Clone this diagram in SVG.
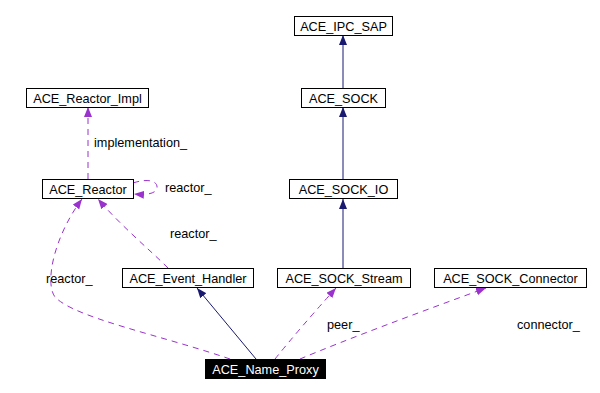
<svg xmlns="http://www.w3.org/2000/svg" width="600" height="393" viewBox="0 0 600 393">
  <style>
    .box { fill: #ffffff; stroke: #000000; stroke-width: 1; }
    .self { fill: #000000; stroke: #000000; stroke-width: 1; }
    text { font-family: "Liberation Sans", Arial, sans-serif; font-size: 12.7px; fill: #000000; }
    .nt { text-anchor: middle; }
    .wt { fill: #ffffff; }
    .inh { fill: none; stroke: #191970; stroke-width: 1; }
    .use { fill: none; stroke: #9a32cd; stroke-width: 1; stroke-dasharray: 6,5; }
  </style>
  <defs>
    <marker id="ah-inh" viewBox="0 0 10 8" refX="10" refY="4" markerWidth="10" markerHeight="8" markerUnits="userSpaceOnUse" orient="auto">
      <path d="M0,0 L10,4 L0,8 Z" fill="#191970"/>
    </marker>
    <marker id="ah-use" viewBox="0 0 10 8" refX="10" refY="4" markerWidth="10" markerHeight="8" markerUnits="userSpaceOnUse" orient="auto">
      <path d="M0,0 L10,4 L0,8 Z" fill="#9a32cd"/>
    </marker>
  </defs>

  <!-- connectors -->
  <g id="edges">
    <path class="inh" d="M343,88 L343,35" marker-end="url(#ah-inh)"/>
    <path class="inh" d="M343,179 L343,107" marker-end="url(#ah-inh)"/>
    <path class="inh" d="M343,268 L343,199" marker-end="url(#ah-inh)"/>
    <path class="inh" d="M256,359 L197,288" marker-end="url(#ah-inh)"/>
    <path class="use" d="M275,359 Q300,328 336,288" marker-end="url(#ah-use)"/>
    <path class="use" d="M300,359 C345,340 420,312 486,288" marker-end="url(#ah-use)"/>
    <path class="use" d="M88,179 L88,107" marker-end="url(#ah-use)"/>
    <path class="use" d="M133,183 C148,178 158,181 157,188 C156,194 146,195 134,194" marker-end="url(#ah-use)"/>
    <path class="use" d="M168,268 C150,250 120,225 98,199" marker-end="url(#ah-use)"/>
    <path class="use" d="M230,359 C160,335 75,318 55,297 C44,282 55,235 82,199" marker-end="url(#ah-use)"/>
  </g>

  <!-- edge labels -->
  <g id="labels">
    <text x="94" y="147">implementation_</text>
    <text x="165" y="192">reactor_</text>
    <text x="170" y="238">reactor_</text>
    <text x="46" y="283">reactor_</text>
    <text x="327" y="329">peer_</text>
    <text x="517" y="329">connector_</text>
  </g>

  <g id="ACE_IPC_SAP">
    <rect class="box" x="294.5" y="16.5" width="98" height="19"/>
    <text class="nt" x="343.5" y="30.5">ACE_IPC_SAP</text>
  </g>
  <g id="ACE_SOCK">
    <rect class="box" x="301.5" y="88.5" width="84" height="19"/>
    <text class="nt" x="343.5" y="102.5">ACE_SOCK</text>
  </g>
  <g id="ACE_SOCK_IO">
    <rect class="box" x="289.5" y="179.5" width="108" height="19"/>
    <text class="nt" x="343.5" y="193.5">ACE_SOCK_IO</text>
  </g>
  <g id="ACE_Reactor_Impl">
    <rect class="box" x="26.5" y="88.5" width="122" height="19"/>
    <text class="nt" x="87.5" y="102.5">ACE_Reactor_Impl</text>
  </g>
  <g id="ACE_Reactor">
    <rect class="box" x="42.5" y="179.5" width="91" height="19"/>
    <text class="nt" x="88" y="193.5">ACE_Reactor</text>
  </g>
  <g id="ACE_Event_Handler">
    <rect class="box" x="122.5" y="268.5" width="131" height="19"/>
    <text class="nt" x="188" y="282.5">ACE_Event_Handler</text>
  </g>
  <g id="ACE_SOCK_Stream">
    <rect class="box" x="277.5" y="268.5" width="133" height="19"/>
    <text class="nt" x="344" y="282.5">ACE_SOCK_Stream</text>
  </g>
  <g id="ACE_SOCK_Connector">
    <rect class="box" x="434.5" y="268.5" width="152" height="19"/>
    <text class="nt" x="510.5" y="282.5">ACE_SOCK_Connector</text>
  </g>
  <g id="ACE_Name_Proxy">
    <rect class="self" x="205.5" y="359.5" width="120" height="19"/>
    <text class="nt wt" x="265.5" y="373.5">ACE_Name_Proxy</text>
  </g>
</svg>
